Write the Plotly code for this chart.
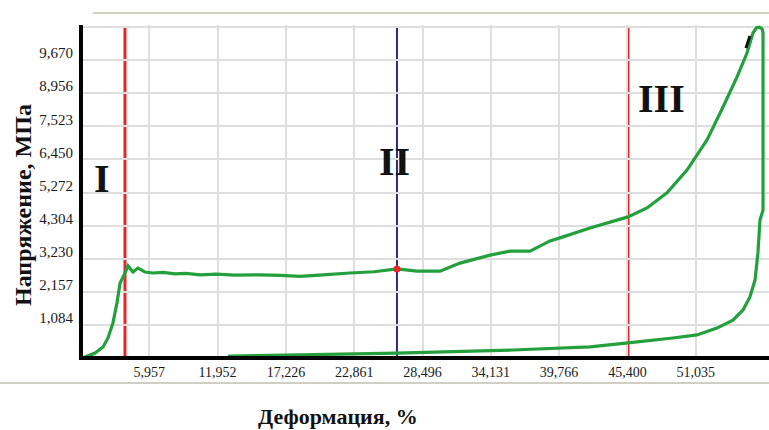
import plotly.graph_objects as go

# ---- data ----
# loading / unloading loop, strain (%) and stress (MPa)
strain = [0.32, 0.65, 1.48, 2.14, 2.55, 2.96, 3.29, 3.54, 3.95, 4.20, 4.61, 5.02, 5.30, 5.60, 6.26,
          7.10, 8.08, 9.00, 10.14, 11.50, 13.00, 15.09, 16.80, 18.39, 20.30, 22.50, 24.50, 26.39,
          28.04, 29.94, 31.59, 34.07, 35.72, 37.37, 39.01, 39.84, 42.32, 45.45, 47.02, 48.67,
          50.32, 51.97, 53.29, 54.44, 55.27, 55.76, 56.05, 56.30, 56.52, 56.59,
          56.59, 56.34, 56.17, 55.93, 55.51, 54.94, 54.11, 52.79, 51.14, 49.16, 45.45, 42.32,
          35.96, 26.39, 18.39, 12.45]
stress = [0.00, 0.03, 0.16, 0.36, 0.65, 1.14, 1.79, 2.43, 2.76, 2.99, 2.79, 2.92, 2.86, 2.79, 2.76,
          2.78, 2.73, 2.75, 2.70, 2.72, 2.69, 2.70, 2.68, 2.65, 2.70, 2.76, 2.80, 2.89,
          2.82, 2.82, 3.08, 3.34, 3.47, 3.47, 3.80, 3.90, 4.22, 4.58, 4.87, 5.36,
          6.10, 7.08, 8.15, 9.12, 9.90, 10.55, 10.72, 10.74, 10.68, 10.55,
          4.80, 4.48, 3.41, 2.53, 1.98, 1.56, 1.23, 0.97, 0.75, 0.65, 0.49, 0.36,
          0.26, 0.16, 0.10, 0.06]

stage_bounds = [3.95, 45.45]      # red lines
mid_mark_x = 26.39                # blue line
mid_mark_y = 2.89                 # red dot
stage_names = ["I", "II", "III"]

arrow_x = [55.18, 55.51]
arrow_y = [10.06, 10.45]

x_tick_labels = ["5,957", "11,952", "17,226", "22,861", "28,496", "34,131", "39,766", "45,400", "51,035"]
y_tick_labels = ["1,084", "2,157", "3,230", "4,304", "5,272", "6,450", "7,523", "8,956", "9,670"]

# axis scales (grid step)
x0, xstep = 0.322, 5.635
ystep = 1.0745
x_ticks = [x0 + xstep * (i + 1) for i in range(len(x_tick_labels))]
y_ticks = [ystep * (i + 1) for i in range(len(y_tick_labels))]

# page geometry (body margin removed by post_script)
W, H = 769, 430
XO, YO = 81, 358               # pixel of the axes origin
GX, GY = 68.3, 33.1            # pixels per grid step
PL, PR, PT, PB = 83, 769, 25, 356   # plot box in pixels
ML, MR, MT, MB = PL, W - PR, PT, H - PB
PW, PH = PR - PL, PB - PT

x_range = [x0 + xstep * (PL - XO) / GX, x0 + xstep * (PR - XO) / GX]
y_range = [ystep * (YO - PB) / GY, ystep * (YO - PT) / GY]

def px(xp):
    return (xp - PL) / PW

def py(yp):
    return (PB - yp) / PH

GREEN = "#23a03c"
RED = "#e8262a"
BLUE = "#2b2a86"
SERIF = "Liberation Serif"

fig = go.Figure()
fig.add_trace(go.Scatter(x=strain, y=stress, mode="lines",
                         line=dict(color=GREEN, width=3.2, simplify=False), hoverinfo="skip"))
fig.add_trace(go.Scatter(x=arrow_x, y=arrow_y, mode="lines",
                         line=dict(color="#111", width=3), hoverinfo="skip"))

for xb in stage_bounds:
    fig.add_shape(type="line", x0=xb, x1=xb, y0=0, y1=ystep * 10, xref="x", yref="y",
                  line=dict(color=RED, width=3), layer="below")
fig.add_shape(type="line", x0=mid_mark_x, x1=mid_mark_x, y0=0, y1=ystep * 10, xref="x", yref="y",
              line=dict(color=BLUE, width=2), layer="below")
fig.add_trace(go.Scatter(x=[mid_mark_x], y=[mid_mark_y], mode="markers",
                         marker=dict(color=RED, size=7), hoverinfo="skip"))

# decorative frame lines of the original image
fig.add_shape(type="line", xref="paper", yref="paper", x0=px(93), x1=px(769), y0=py(13), y1=py(13),
              line=dict(color="#cfcfc6", width=2))
fig.add_shape(type="line", xref="paper", yref="paper", x0=px(0), x1=px(769), y0=py(383), y1=py(383),
              line=dict(color="#cfcfc6", width=2))

# stage labels
for name, (ax, ay) in zip(stage_names, [(102, 178), (394, 161), (661, 98)]):
    fig.add_annotation(text="<b>%s</b>" % name, x=px(ax), y=py(ay), xref="paper", yref="paper",
                       xanchor="center", yanchor="middle",
                       showarrow=False, font=dict(family=SERIF, size=40, color="#111"))

# axis titles
fig.add_annotation(text="<b>Деформация, %</b>", x=px(338), y=py(417), xref="paper", yref="paper",
                   xanchor="center", yanchor="middle",
                   showarrow=False, font=dict(family=SERIF, size=22, color="#111"))
fig.add_annotation(text="<b>Напряжение, МПа</b>", x=px(23), y=py(205), xref="paper", yref="paper",
                   xanchor="center", yanchor="middle",
                   showarrow=False, textangle=-90, font=dict(family=SERIF, size=24, color="#111"))

fig.update_layout(
    width=W, height=H,
    margin=dict(l=ML, r=MR, t=MT, b=MB, autoexpand=False),
    paper_bgcolor="white", plot_bgcolor="white",
    showlegend=False,
    xaxis=dict(range=x_range, tickvals=x_ticks, ticktext=x_tick_labels,
               showgrid=True, gridcolor="#dedede", gridwidth=1.5, zeroline=False,
               showline=True, linecolor="#000", linewidth=4, ticks="", automargin=False,
               tickfont=dict(family=SERIF, size=14, color="#1a1a1a"), fixedrange=True),
    yaxis=dict(range=y_range, tickvals=y_ticks + [ystep * 10], ticktext=y_tick_labels + [""],
               showgrid=True, gridcolor="#dedede", gridwidth=1.5, zeroline=False,
               showline=True, linecolor="#000", linewidth=4, ticks="", automargin=False,
               ticklabelshift=-7, ticklabelstandoff=3,
               tickfont=dict(family=SERIF, size=15, color="#1a1a1a"), fixedrange=True),
)

fig.write_html("out.html", config={"displayModeBar": False},
               post_script="document.body.style.margin='0';document.body.style.overflow='hidden';")
